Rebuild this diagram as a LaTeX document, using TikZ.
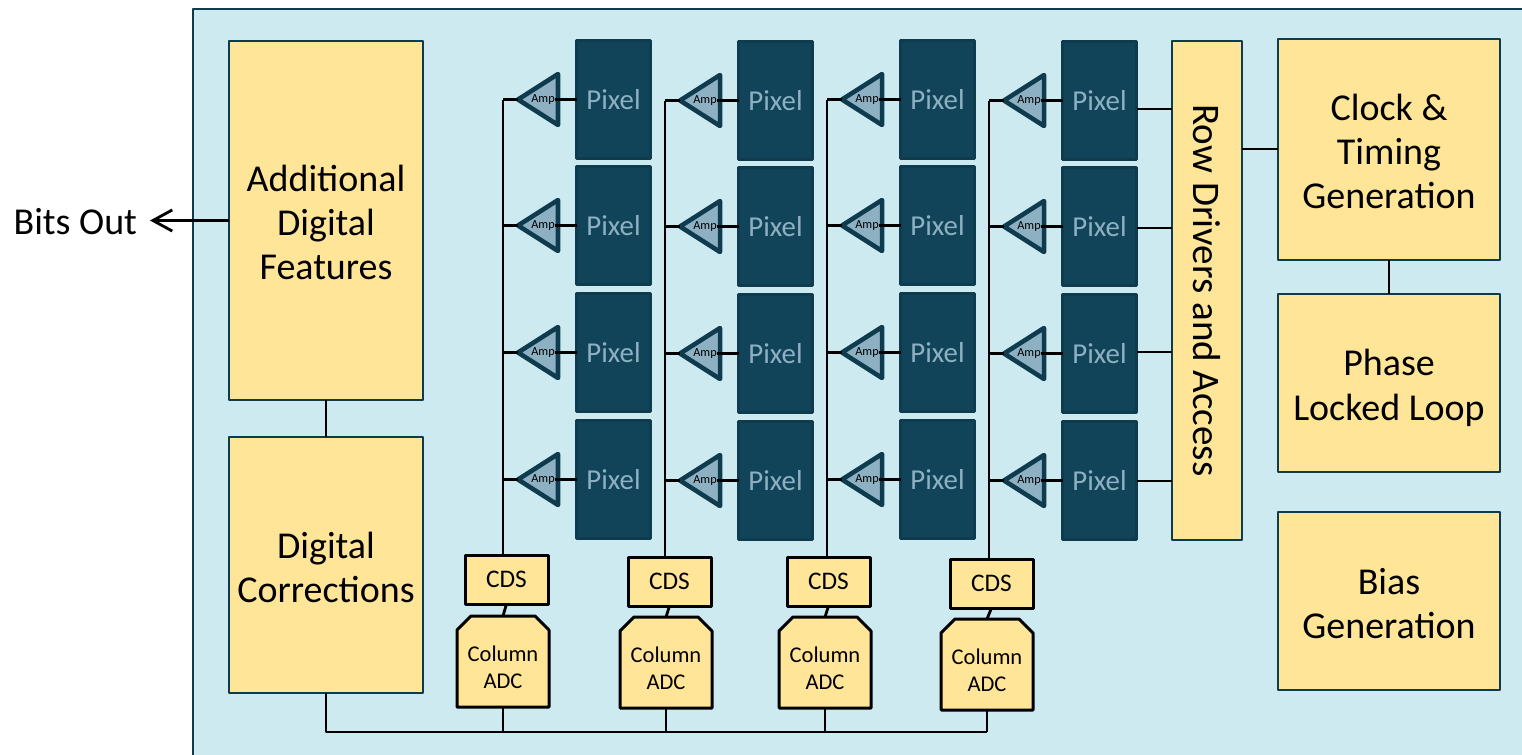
\documentclass[tikz,border=0pt]{standalone}
\usepackage{fontspec}
\setmainfont{Carlito}
\usetikzlibrary{shapes.geometric,arrows.meta}
\definecolor{chipbg}{HTML}{CEEAF1}
\definecolor{deepteal}{HTML}{124459}
\definecolor{edgeteal}{HTML}{0E3B4E}
\definecolor{paleteal}{HTML}{8DB0C2}
\definecolor{sand}{HTML}{FFE597}
\newcommand\lowered{\rule{0pt}{8.7pt}}
\tikzset{
	wh/.style 2 args={minimum width=#1*0.01cm,minimum height=#2*0.01cm},
	bigbox/.style={draw=edgeteal,fill=sand,line width=0.8pt,rectangle,inner sep=0pt,outer sep=0pt,anchor=north west,align=center,font=\fontsize{10.8}{12.6}\selectfont},
	pixelbox/.style={draw=edgeteal,fill=deepteal,line width=0.7pt,rectangle,inner sep=0pt,outer sep=0pt,anchor=north west,wh={74}{118},text=paleteal,font=\fontsize{8.2}{10}\selectfont},
	ampbox/.style={draw=edgeteal,fill=paleteal,line width=1.3pt,isosceles triangle,isosceles triangle apex angle=65,shape border rotate=180,minimum height=0.4cm,inner sep=0pt,outer sep=0pt,anchor=apex},
	amptext/.style={inner sep=0pt,outer sep=0pt,font=\fontsize{3.5}{4}\selectfont},
	cdsbox/.style={draw=black,fill=sand,line width=0.85pt,rectangle,inner sep=0pt,outer sep=0pt,anchor=north west,wh={83}{49},font=\fontsize{7.2}{8}\selectfont},
	adcshape/.style={draw=black,fill=sand,line width=0.85pt},
	adcbox/.style={rectangle,inner sep=0pt,outer sep=0pt,anchor=north west,wh={92}{91}},
	adclabel/.style={align=center,inner sep=0pt,font=\fontsize{6.4}{7.6}\selectfont},
	wire/.style={black,line width=0.8pt}
}
\begin{document}
\begin{tikzpicture}[x=0.01cm,y=-0.01cm,line join=round]
	\clip (0,0) rectangle (1522,754);
	%%%Chip
	\fill[chipbg] (193,9) rectangle (1560,790);
	\draw[edgeteal,line width=0.8pt] (1560,9)--(193,9)--(193,790);
	%%%Khoi so
	\node[bigbox,wh={194}{359}] (features) at (229,41) {\lowered Additional\\Digital\\Features};
	\node[bigbox,wh={194}{256}] (corrections) at (229,437) {\lowered Digital\\Corrections};
	\node[bigbox,wh={70}{499}] (rowdrv) at (1172,41) {};
	\node[rotate=-90,font=\fontsize{11.1}{12.6}\selectfont] (rowtext) at (rowdrv.center) {Row Drivers and Access};
	\node[bigbox,wh={222}{221}] (clock) at (1278,39) {\lowered Clock \&\\Timing\\Generation};
	\node[bigbox,wh={222}{178}] (pll) at (1278,294) {\rule{0pt}{10.2pt}Phase\\Locked Loop};
	\node[bigbox,wh={222}{178}] (bias) at (1278,512) {\lowered Bias\\Generation};
	\node[anchor=east,inner sep=0pt,outer xsep=3.7pt,font=\fontsize{10.8}{12.6}\selectfont] (bits) at (150,222) {Bits Out};
	%%%Cot Pixel
	\foreach \c/\xp/\dy/\xc/\yc/\xa/\ya in {1/576/0/465/555/457/616,2/738/1/628/557/620/617,3/900/0/787/557/779/617,4/1062/1/950/559/941/619}{
		\node[cdsbox] (cds\c) at (\xc,\yc) {CDS};
		\draw[adcshape] (\xa,\ya+14)--(\xa+14,\ya)--(\xa+78,\ya)--(\xa+92,\ya+14)--(\xa+92,\ya+91)--(\xa,\ya+91)--cycle;
		\node[adcbox] (adc\c) at (\xa,\ya) {};
		\node[adclabel] (adctext\c) at ([yshift=-0.06cm]adc\c.center) {Column\\ADC};
		\draw[wire] (cds\c.south)--(adc\c.north);
		\coordinate (foot\c) at (\xp-73,\yc);
		\foreach \r/\yp in {1/40,2/166,3/293,4/420}{
			\node[pixelbox] (pix\c\r) at (\xp+0.5,\yp+\dy+0.5) {Pixel};
			\node[ampbox] (amp\c\r) at (\xp-58,\yp+\dy+59.5) {};
			\node[amptext] (amptext\c\r) at (\xp-33,\yp+\dy+59.5) {Amp};
			\coordinate (tap\c\r) at (\xp-73,\yp+\dy+59.5);
			\draw[wire] (pix\c\r.west)--(amptext\c\r.east);
			\draw[wire] (amp\c\r.apex)--(tap\c\r);
		}
		\draw[wire] (tap\c1)--(foot\c);
	}
	%%%Day noi
	\coordinate (busl) at (326,732);
	\coordinate (busr) at (adc4.south |- busl);
	\draw[wire] (corrections.south)--(busl)--(busr);
	\foreach \c in {1,2,3,4}
		\draw[wire] (adc\c.south)--(adc\c.south |- busl);
	\draw[wire] (features.south)--(corrections.north);
	\draw[wire] (clock.south)--(pll.north);
	\foreach \r/\yd in {1/109,2/228,3/352,4/481}{
		\coordinate (drvin\r) at (1172,\yd);
		\draw[wire] (pix4\r.east |- drvin\r)--(drvin\r);
	}
	\coordinate (clkin) at (1278,149);
	\draw[wire] (rowdrv.east |- clkin)--(clkin);
	\draw[wire,-{Straight Barb[length=5.5pt,width=6pt]}] (features.west)--(features.west -| bits.east);
\end{tikzpicture}
\end{document}
